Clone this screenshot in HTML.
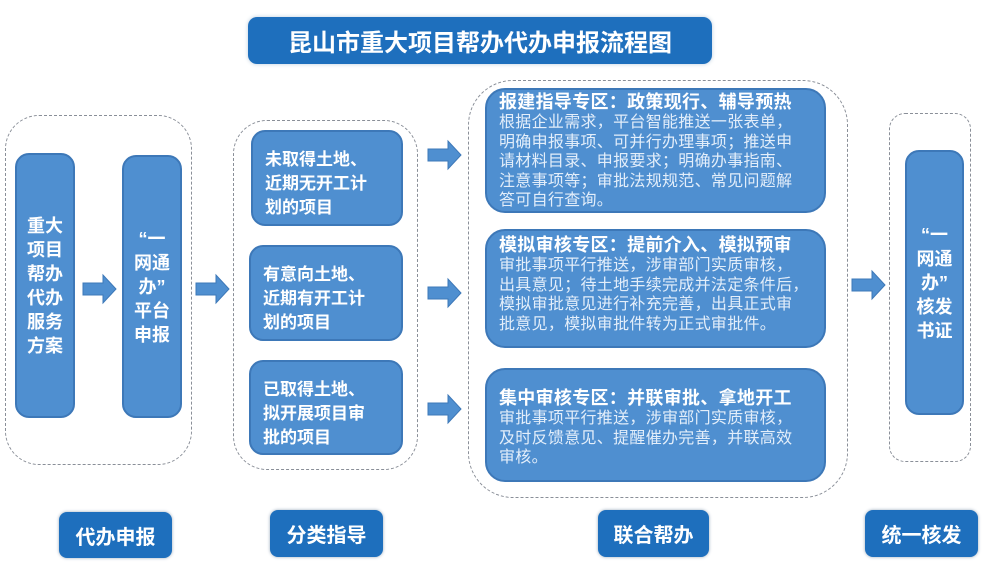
<!DOCTYPE html>
<html><head><meta charset="utf-8"><style>
body{margin:0;width:1000px;height:568px;background:#fff;position:relative;overflow:hidden;font-family:"Liberation Sans","Noto Sans CJK SC",sans-serif;}
.a{position:absolute;box-sizing:border-box;}
.dash{border:1.5px dashed #8a8f98;border-radius:34px;}
.box{background:#4f8fd0;border:2px solid #3d78b8;border-radius:14px;color:#fff;font-weight:bold;}
.v{font-size:18px;line-height:24px;text-align:center;display:flex;align-items:center;justify-content:center;}
.g{font-size:17px;line-height:24px;padding:16px 0 0 12px;}
.z{padding:1px 0 0 12px;white-space:nowrap;}
.z .h{font-size:18px;line-height:22px;letter-spacing:0.3px;}
.z .b{font-size:16px;line-height:19.6px;font-weight:normal;color:#e3eefa;letter-spacing:0.3px;}
.lab{background:#1e6fbd;border-radius:8px;color:#fff;font-weight:bold;font-size:20px;display:flex;align-items:center;justify-content:center;box-shadow:0 0 3px #9ab;}
</style></head><body>
<div class="a" style="left:248px;top:17px;width:464px;height:47px;background:#1e6fbd;border-radius:9px;color:#fff;font-weight:bold;font-size:24px;display:flex;align-items:center;justify-content:center;box-shadow:0 0 4px #bcd">昆山市重大项目帮办代办申报流程图</div>

<div class="a dash" style="left:5px;top:115px;width:187px;height:350px"></div>
<div class="a box v" style="left:15px;top:153px;width:60px;height:265px">重大<br>项目<br>帮办<br>代办<br>服务<br>方案</div>
<div class="a box v" style="left:122px;top:155px;width:60px;height:263px">“一<br>网通<br>办”<br>平台<br>申报</div>

<div class="a dash" style="left:233px;top:120px;width:185px;height:350px"></div>
<div class="a box g" style="left:251px;top:130px;width:152px;height:96px">未取得土地、<br>近期无开工计<br>划的项目</div>
<div class="a box g" style="left:249px;top:245px;width:154px;height:96px">有意向土地、<br>近期有开工计<br>划的项目</div>
<div class="a box g" style="left:249px;top:360px;width:154px;height:95px">已取得土地、<br>拟开展项目审<br>批的项目</div>

<div class="a dash" style="left:468px;top:80px;width:380px;height:418px;border-radius:45px"></div>
<div class="a box z" style="left:485px;top:88px;width:341px;height:125px;border-radius:20px"><div class="h">报建指导专区：政策现行、辅导预热</div><div class="b">根据企业需求，平台智能推送一张表单，<br>明确申报事项、可并行办理事项；推送申<br>请材料目录、申报要求；明确办事指南、<br>注意事项等；审批法规规范、常见问题解<br>答可自行查询。</div></div>
<div class="a box z" style="left:485px;top:229px;width:341px;height:119px;border-radius:20px"><div class="h" style="margin-top:2px">模拟审核专区：提前介入、模拟预审</div><div class="b">审批事项平行推送，涉审部门实质审核，<br>出具意见；待土地手续完成并法定条件后，<br>模拟审批意见进行补充完善，出具正式审<br>批意见，模拟审批件转为正式审批件。</div></div>
<div class="a box z" style="left:485px;top:368px;width:341px;height:114px;border-radius:20px"><div class="h" style="margin-top:16px">集中审核专区：并联审批、拿地开工</div><div class="b">审批事项平行推送，涉审部门实质审核，<br>及时反馈意见、提醒催办完善，并联高效<br>审核。</div></div>

<div class="a dash" style="left:889px;top:113px;width:82px;height:349px;border-radius:16px"></div>
<div class="a box v" style="left:905px;top:150px;width:59px;height:265px">“一<br>网通<br>办”<br>核发<br>书证</div>

<svg class="a" style="left:0;top:0" width="1000" height="568">
<g fill="#4f8fd0" stroke="#3d78b8" stroke-width="1">
<path d="M83 283h20v-8l13 14-13 14v-8h-20z"/>
<path d="M196 283h20v-8l13 14-13 14v-8h-20z"/>
<path d="M428 149h20v-8l13 14-13 14v-8h-20z"/>
<path d="M428 287h20v-8l13 14-13 14v-8h-20z"/>
<path d="M428 403h20v-8l13 14-13 14v-8h-20z"/>
<path d="M852 279h20v-8l13 14-13 14v-8h-20z"/>
</g></svg>

<div class="a lab" style="left:59px;top:512px;width:113px;height:46px">代办申报</div>
<div class="a lab" style="left:270px;top:510px;width:113px;height:47px">分类指导</div>
<div class="a lab" style="left:598px;top:510px;width:111px;height:47px">联合帮办</div>
<div class="a lab" style="left:865px;top:510px;width:113px;height:47px">统一核发</div>
</body></html>
